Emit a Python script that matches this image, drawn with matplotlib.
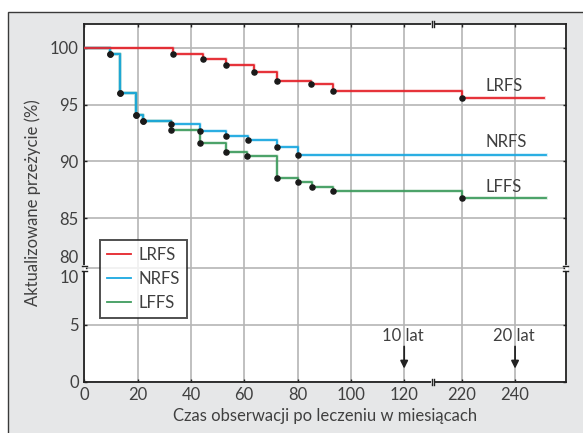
import numpy as np
import matplotlib
matplotlib.use('Agg')
import matplotlib.pyplot as plt
from matplotlib.patches import Rectangle
from matplotlib.lines import Line2D

plt.rcParams['font.family'] = ['Lato', 'DejaVu Sans']
plt.rcParams['font.weight'] = 'normal'

# ---- data (months, survival %) ----
lrfs_t = [0, 33.4, 44.6, 53.2, 63.7, 72.2, 85.2, 93.4, 220]
lrfs_v = [100, 99.47, 99.0, 98.5, 97.9, 97.07, 96.78, 96.19, 95.55]
lrfs_end = 250.8

nrfs_t = [0, 9.6, 13.4, 19.3, 22.1, 32.6, 43.5, 53.2, 61.5, 72.2, 80.2]
nrfs_v = [100, 99.47, 96.04, 94.1, 93.55, 93.3, 92.67, 92.26, 91.88, 91.29, 90.58]
nrfs_end = 251.5

lffs_t = [0, 9.6, 13.4, 19.3, 22.1, 32.6, 43.3, 53.2, 61.2, 72.2, 80.1, 85.3, 93.4, 220]
lffs_v = [100, 99.47, 96.04, 94.1, 93.55, 92.75, 91.59, 90.85, 90.47, 88.56, 88.15, 87.77, 87.39, 86.74]
lffs_end = 251.5

series_names = ['LRFS', 'NRFS', 'LFFS']
series_colors = ['#e5242b', '#1aa8e0', '#3f9c5e']

x_ticks = [0, 20, 40, 60, 80, 100, 120, 220, 240]
y_ticks_top = [85, 90, 95, 100]
y_ticks_bottom = [0, 5, 10]
milestones = [120, 240]
milestone_labels = ['10 lat', '20 lat']

# ---- broken-axis mapping ----
X_SHIFT = 78.4   # months >= 200 are shifted left
Y_SHIFT = 70.6   # upper panel values shifted down
X_BREAK = 130.7
Y_BREAK = 10.0
FS = 12
TXT = '#404040'


def tx(x):
    x = np.asarray(x, dtype=float)
    return np.where(x >= 200, x - X_SHIFT, x)


def ty(y):
    y = np.asarray(y, dtype=float)
    return np.where(y >= 50, y - Y_SHIFT, y)


W, H = 583, 433
fig = plt.figure(figsize=(W / 100, H / 100), dpi=100)
fig.patch.set_facecolor('white')
panel = Rectangle((7.5 / W, -0.05), 1.2, 1 - 11.7 / H + 0.05, transform=fig.transFigure,
                  facecolor='#e6e7e8', edgecolor='#3a3a3a', lw=1.0, zorder=-10)
fig.add_artist(panel)

x0, x1 = 84.3, 565.7
y0, y1 = 381.7, 24.3
ax = fig.add_axes([x0 / W, 1 - y0 / H, (x1 - x0) / W, (y0 - y1) / H])
ax.set_facecolor('white')
ax.set_xlim(0, 180.6)
ax.set_ylim(0, 31.46)

# ticks & grid
xt = tx(x_ticks)
ax.set_xticks(xt)
ax.set_xticklabels([str(v) for v in x_ticks])
yt = list(y_ticks_bottom) + list(ty(y_ticks_top))
ax.set_yticks(yt)
ax.set_yticklabels(['0', '5', ''] + [str(v) for v in y_ticks_top])
ax.tick_params(direction='in', length=2.5, width=1, top=True, right=True,
               labelsize=FS, pad=4, labelcolor=TXT, color='#222222')
ax.grid(True, color='#b5b5b5', lw=1.2, zorder=0)
ax.set_axisbelow(True)
for s in ax.spines.values():
    s.set_linewidth(1.3)
    s.set_color('#222222')

# custom labels at the y break
ax.annotate('10', xy=(0, 9.1), xycoords=('axes fraction', 'data'), xytext=(-4, 0),
            textcoords='offset points', ha='right', va='center', fontsize=FS, color=TXT)
ax.annotate('80', xy=(0, 10.86), xycoords=('axes fraction', 'data'), xytext=(-4, 0),
            textcoords='offset points', ha='right', va='center', fontsize=FS, color=TXT)

# curves
data = [(lrfs_t, lrfs_v, lrfs_end), (nrfs_t, nrfs_v, nrfs_end), (lffs_t, lffs_v, lffs_end)]
order = [2, 1, 0]
for i in order:
    t, v, end = data[i]
    xs = tx(list(t) + [end])
    ys = ty(list(v) + [v[-1]])
    ax.step(xs, ys, where='post', color=series_colors[i], lw=2.6, alpha=0.22, zorder=3)
    ax.step(xs, ys, where='post', color=series_colors[i], lw=1.3, zorder=4)
for i in order:
    t, v, end = data[i]
    ax.plot(tx(t[1:]), ty(v[1:]), 'o', color='#1a1a1a', ms=3.7, zorder=6)

# curve labels on the right
label_pos = [(504, 86), (506, 141.7), (503.3, 187.3)]
for name, (px, py) in zip(series_names, label_pos):
    ax.text(px / W, 1 - py / H, name, transform=fig.transFigure, ha='center', va='center',
            fontsize=FS, color=TXT, zorder=7)

# milestone arrows
for m, lab in zip(milestones, milestone_labels):
    xm = float(tx(m))
    ax.annotate('', xy=(xm, 1.15), xytext=(xm, 3.1),
                arrowprops=dict(arrowstyle='-|>', color='#222222', lw=1.3, mutation_scale=11,
                                shrinkA=0, shrinkB=0), zorder=7)
    ax.text(xm - 0.4, 4.05, lab, ha='center', va='center', fontsize=FS, color=TXT, zorder=7)

# break marks
def hbar_y(y, xa):
    for dy in (-0.22, 0.22):
        ax.add_line(Line2D([xa - 1.0, xa + 1.0], [y + dy, y + dy], color='#222222', lw=1.0,
                           clip_on=False, zorder=8))
    ax.add_line(Line2D([xa, xa], [y - 0.15, y + 0.15], color='white', lw=2.0, clip_on=False, zorder=7.5))

hbar_y(Y_BREAK, 0)
hbar_y(Y_BREAK, 180.6)

def vbar_x(x, ya):
    for dx in (-0.4, 0.4):
        ax.add_line(Line2D([x + dx, x + dx], [ya - 0.25, ya + 0.25], color='#222222', lw=1.0,
                           clip_on=False, zorder=8))
    ax.add_line(Line2D([x - 0.3, x + 0.3], [ya, ya], color='white', lw=2.0, clip_on=False, zorder=7.5))

vbar_x(X_BREAK, 0)
vbar_x(X_BREAK, 31.46)

# legend
handles = [Line2D([], [], color=c, lw=1.3) for c in series_colors]
leg = ax.legend(handles, series_names, loc='upper left',
                bbox_to_anchor=((100 - x0) / (x1 - x0), (y0 - 240) / (y0 - y1)),
                borderaxespad=0, frameon=True, fancybox=False, fontsize=FS, handlelength=1.45,
                handletextpad=0.45, labelspacing=0.48, borderpad=0.42, labelcolor=TXT)
leg.get_frame().set_edgecolor('#222222')
leg.get_frame().set_linewidth(1.4)
leg.set_zorder(9)

# axis titles
fig.text(32.3 / W, 1 - 203 / H, 'Aktualizowane przeżycie (%)', rotation=90, ha='center', va='center',
         fontsize=FS, color=TXT)
fig.text(325 / W, 1 - 415.7 / H, 'Czas obserwacji po leczeniu w miesiącach', ha='center', va='center',
         fontsize=FS, color=TXT)

fig.savefig('out.png', dpi=100)
